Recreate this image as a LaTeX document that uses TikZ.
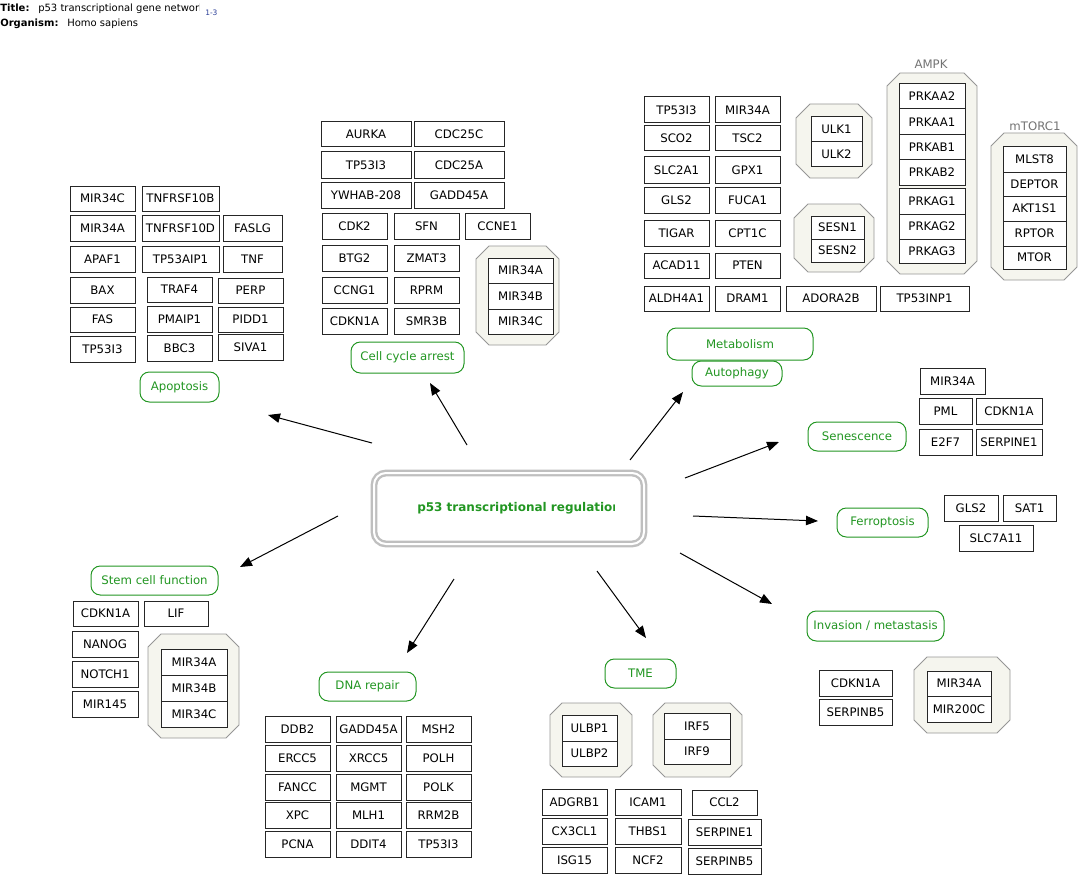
\documentclass[tikz,border=0pt]{standalone}
\usepackage{fontspec}
\setmainfont{DejaVu Sans}
\usetikzlibrary{arrows.meta}
\definecolor{lblgreen}{RGB}{34,150,34}
\definecolor{cplxfill}{RGB}{245,245,238}
\definecolor{cplxline}{RGB}{150,150,150}
\definecolor{refblue}{RGB}{40,60,150}
\newcommand{\gfont}{\fontsize{8.8pt}{10pt}\selectfont}
\newcommand{\tfont}{\fontsize{7.5pt}{9pt}\selectfont}
% gene box: name, x1, y1, x2, y2, text (pixel grid, y downwards)
\newcommand{\gbox}[6]{\node[gene, minimum width={(#4-#2)*0.75pt}, minimum height={(#5-#3)*0.75pt}] (#1) at ({(#2+#4)/2},{(#3+#5)/2}) {#6};}
% process label box
\newcommand{\lbox}[6]{\node[lbl, minimum width={(#4-#2)*0.75pt}, minimum height={(#5-#3)*0.75pt}] (#1) at ({(#2+#4)/2},{(#3+#5)/2}) {#6};}
% complex outline: x1, y1, x2, y2, chamfer
\newcommand{\cplx}[5]{\filldraw[cplx] (#1+#5,#2) -- (#3-#5,#2) -- (#3,#2+#5) -- (#3,#4-#5) -- (#3-#5,#4) -- (#1+#5,#4) -- (#1,#4-#5) -- (#1,#2+#5) -- cycle;}
\tikzset{
  gene/.style={draw=black!85, line width=0.75pt, fill=white, inner sep=0pt, font=\gfont},
  lbl/.style={draw=lblgreen, line width=0.75pt, rounded corners=7pt, fill=white, inner sep=0pt, text=lblgreen, font=\gfont},
  cplx/.style={draw=cplxline, fill=cplxfill, line width=0.6pt},
  cplxname/.style={text=black!55, font=\gfont, inner sep=0pt},
  flow/.style={line width=0.75pt, -{Triangle[length=9pt,width=7pt]}},
}
\begin{document}
\begin{tikzpicture}[x=0.75pt, y=-0.75pt]
\useasboundingbox (0,0) rectangle (1091,888);

% header
\node[anchor=base west, inner sep=0pt, font=\tfont\bfseries] (ttl) at (0,12) {Title:};
\node[anchor=base west, inner sep=0pt, font=\tfont\bfseries] (org) at (0,27) {Organism:};
\begin{scope}
  \clip (0,0) rectangle (199,20);
  \node[anchor=base west, inner sep=0pt, font=\tfont] (ttltext) at (38,12) {p53 transcriptional gene network};
\end{scope}
\node[anchor=base west, inner sep=0pt, font=\fontsize{5.6pt}{6pt}\selectfont, text=refblue] (refs) at (205,15.5) {1-3};
\node[anchor=base west, inner sep=0pt, font=\tfont] (orgtext) at (67,27) {Homo sapiens};

% central node
\node[draw=black!25, line width=1.8pt, double=white, double distance=1.5pt, rounded corners=9pt,
      minimum width={(644-374)*0.75pt}, minimum height={(544-473)*0.75pt}, inner sep=0pt] (core) at (509,508.5) {};
\begin{scope}
  \clip (380,480) rectangle (614,535);
  \node[anchor=base west, inner sep=0pt, text=lblgreen, font=\fontsize{9pt}{11pt}\selectfont\bfseries] (coretext) at (417,511) {p53 transcriptional regulation};
\end{scope}

% arrows to the processes
\coordinate (s1) at (372,443); \coordinate (e1) at (268,415);
\coordinate (s2) at (467,445); \coordinate (e2) at (430,383);
\coordinate (s3) at (630,460); \coordinate (e3) at (683,392);
\coordinate (s4) at (685,478); \coordinate (e4) at (779,442);
\coordinate (s5) at (693,516); \coordinate (e5) at (818,521);
\coordinate (s6) at (680,553); \coordinate (e6) at (772,604);
\coordinate (s7) at (597,571); \coordinate (e7) at (646,638);
\coordinate (s8) at (454,579); \coordinate (e8) at (407,653);
\coordinate (s9) at (338,516); \coordinate (e9) at (240,567);
\foreach \i in {1,...,9} \draw[flow] (s\i) -- (e\i);

% process labels
\lbox{lapo}{140}{372}{219}{402}{Apoptosis}
\lbox{lcc}{351}{342}{464}{373}{Cell cycle arrest}
\lbox{lmet}{667}{328}{813}{360}{Metabolism}
\lbox{laut}{692}{361}{782}{386}{Autophagy}
\lbox{lsen}{808}{422}{906}{451}{Senescence}
\lbox{lfer}{837}{508}{928}{537}{Ferroptosis}
\lbox{linv}{807}{611}{944}{641}{Invasion / metastasis}
\lbox{ltme}{605}{659}{676}{688}{TME}
\lbox{ldna}{319}{672}{416}{701}{DNA repair}
\lbox{lstem}{91}{566}{218}{595}{Stem cell function}

% apoptosis
\gbox{ap1}{70}{186}{135}{211}{MIR34C}
\gbox{ap2}{142}{186}{219}{211}{TNFRSF10B}
\gbox{ap3}{70}{215}{135}{241}{MIR34A}
\gbox{ap4}{142}{215}{219}{241}{TNFRSF10D}
\gbox{ap5}{223}{215}{282}{241}{FASLG}
\gbox{ap6}{70}{246}{135}{272}{APAF1}
\gbox{ap7}{142}{246}{219}{272}{TP53AIP1}
\gbox{ap8}{223}{246}{282}{272}{TNF}
\gbox{ap9}{70}{277}{135}{303}{BAX}
\gbox{ap10}{147}{277}{212}{302}{TRAF4}
\gbox{ap11}{218}{278}{283}{303}{PERP}
\gbox{ap12}{70}{307}{135}{332}{FAS}
\gbox{ap13}{147}{306}{212}{332}{PMAIP1}
\gbox{ap14}{218}{307}{283}{332}{PIDD1}
\gbox{ap15}{70}{336}{135}{362}{TP53I3}
\gbox{ap16}{147}{335}{212}{361}{BBC3}
\gbox{ap17}{218}{334}{283}{360}{SIVA1}

% cell cycle arrest
\gbox{cc1}{321}{122}{411}{147}{AURKA}
\gbox{cc2}{414}{122}{504}{147}{CDC25C}
\gbox{cc3}{321}{152}{411}{178}{TP53I3}
\gbox{cc4}{414}{152}{504}{178}{CDC25A}
\gbox{cc5}{321}{182}{411}{208}{YWHAB-208}
\gbox{cc6}{414}{182}{504}{208}{GADD45A}
\gbox{cc7}{322}{213}{387}{239}{CDK2}
\gbox{cc8}{394}{213}{459}{239}{SFN}
\gbox{cc9}{465}{213}{530}{239}{CCNE1}
\gbox{cc10}{322}{245}{387}{271}{BTG2}
\gbox{cc11}{394}{245}{459}{271}{ZMAT3}
\gbox{cc12}{322}{277}{387}{303}{CCNG1}
\gbox{cc13}{394}{277}{459}{303}{RPRM}
\gbox{cc14}{322}{308}{387}{334}{CDKN1A}
\gbox{cc15}{394}{308}{459}{334}{SMR3B}
\cplx{476}{246}{559}{345}{13}
\gbox{cc16}{488}{258}{553}{283}{MIR34A}
\gbox{cc17}{488}{283}{553}{309}{MIR34B}
\gbox{cc18}{488}{309}{553}{334}{MIR34C}

% metabolism and autophagy
\gbox{me1}{644}{97}{709}{123}{TP53I3}
\gbox{me2}{715}{97}{780}{123}{MIR34A}
\gbox{me3}{644}{126}{709}{151}{SCO2}
\gbox{me4}{715}{126}{780}{151}{TSC2}
\gbox{me5}{644}{157}{709}{183}{SLC2A1}
\gbox{me6}{715}{157}{780}{183}{GPX1}
\gbox{me7}{644}{187}{709}{213}{GLS2}
\gbox{me8}{715}{187}{780}{213}{FUCA1}
\gbox{me9}{644}{220}{709}{246}{TIGAR}
\gbox{me10}{715}{220}{780}{246}{CPT1C}
\gbox{me11}{644}{253}{709}{278}{ACAD11}
\gbox{me12}{715}{253}{780}{278}{PTEN}
\gbox{me13}{644}{286}{709}{311}{ALDH4A1}
\gbox{me14}{715}{286}{780}{311}{DRAM1}
\gbox{me15}{786}{286}{876}{311}{ADORA2B}
\gbox{me16}{880}{286}{969}{311}{TP53INP1}
\cplx{796}{104}{872}{178}{14}
\gbox{ulk1}{811}{117}{862}{142}{ULK1}
\gbox{ulk2}{811}{142}{862}{166}{ULK2}
\cplx{794}{204}{874}{272}{14}
\gbox{sesn1}{811}{216}{864}{239}{SESN1}
\gbox{sesn2}{811}{239}{864}{262}{SESN2}
\cplx{887}{73}{977}{274}{13}
\node[cplxname] (ampk) at (931,64) {AMPK};
\gbox{am1}{899}{84}{965}{109}{PRKAA2}
\gbox{am2}{899}{109}{965}{135}{PRKAA1}
\gbox{am3}{899}{135}{965}{160}{PRKAB1}
\gbox{am4}{899}{160}{965}{185}{PRKAB2}
\gbox{am5}{899}{188}{965}{214}{PRKAG1}
\gbox{am6}{899}{214}{965}{239}{PRKAG2}
\gbox{am7}{899}{239}{965}{263}{PRKAG3}
\cplx{991}{133}{1077}{280}{13}
\node[cplxname] (mtorc) at (1035,126) {mTORC1};
\gbox{mt1}{1003}{147}{1066}{172}{MLST8}
\gbox{mt2}{1003}{172}{1066}{196}{DEPTOR}
\gbox{mt3}{1003}{196}{1066}{221}{AKT1S1}
\gbox{mt4}{1003}{221}{1066}{246}{RPTOR}
\gbox{mt5}{1003}{246}{1066}{269}{MTOR}

% senescence
\gbox{se1}{920}{368}{985}{394}{MIR34A}
\gbox{se2}{919}{398}{972}{424}{PML}
\gbox{se3}{976}{398}{1042}{424}{CDKN1A}
\gbox{se4}{919}{429}{972}{455}{E2F7}
\gbox{se5}{976}{429}{1042}{455}{SERPINE1}

% ferroptosis
\gbox{fe1}{944}{495}{998}{521}{GLS2}
\gbox{fe2}{1003}{495}{1056}{521}{SAT1}
\gbox{fe3}{959}{525}{1033}{551}{SLC7A11}

% invasion / metastasis
\gbox{in1}{819}{670}{892}{696}{CDKN1A}
\gbox{in2}{819}{699}{892}{725}{SERPINB5}
\cplx{914}{657}{1010}{733}{13}
\gbox{in3}{927}{671}{991}{696}{MIR34A}
\gbox{in4}{927}{696}{991}{722}{MIR200C}

% tumour microenvironment
\cplx{550}{703}{632}{777}{12}
\gbox{tm1}{562}{715}{617}{741}{ULBP1}
\gbox{tm2}{562}{741}{617}{766}{ULBP2}
\cplx{653}{703}{742}{777}{12}
\gbox{tm3}{664}{713}{730}{739}{IRF5}
\gbox{tm4}{664}{739}{730}{764}{IRF9}
\gbox{tm5}{542}{789}{607}{815}{ADGRB1}
\gbox{tm6}{615}{789}{681}{815}{ICAM1}
\gbox{tm7}{692}{790}{757}{815}{CCL2}
\gbox{tm8}{542}{818}{607}{844}{CX3CL1}
\gbox{tm9}{615}{818}{681}{844}{THBS1}
\gbox{tm10}{688}{819}{761}{845}{SERPINE1}
\gbox{tm11}{542}{847}{607}{873}{ISG15}
\gbox{tm12}{615}{847}{681}{873}{NCF2}
\gbox{tm13}{688}{848}{761}{874}{SERPINB5}

% DNA repair
\gbox{dn1}{265}{716}{330}{742}{DDB2}
\gbox{dn2}{336}{716}{401}{742}{GADD45A}
\gbox{dn3}{406}{716}{471}{742}{MSH2}
\gbox{dn4}{265}{745}{330}{771}{ERCC5}
\gbox{dn5}{336}{745}{401}{771}{XRCC5}
\gbox{dn6}{406}{745}{471}{771}{POLH}
\gbox{dn7}{265}{774}{330}{800}{FANCC}
\gbox{dn8}{336}{774}{401}{800}{MGMT}
\gbox{dn9}{406}{774}{471}{800}{POLK}
\gbox{dn10}{265}{802}{330}{828}{XPC}
\gbox{dn11}{336}{802}{401}{828}{MLH1}
\gbox{dn12}{406}{802}{471}{828}{RRM2B}
\gbox{dn13}{265}{831}{330}{857}{PCNA}
\gbox{dn14}{336}{831}{401}{857}{DDIT4}
\gbox{dn15}{406}{831}{471}{857}{TP53I3}

% stem cell function
\gbox{st1}{73}{601}{138}{626}{CDKN1A}
\gbox{st2}{144}{601}{208}{626}{LIF}
\gbox{st3}{72}{631}{138}{657}{NANOG}
\gbox{st4}{72}{661}{138}{687}{NOTCH1}
\gbox{st5}{72}{691}{138}{717}{MIR145}
\cplx{148}{634}{239}{738}{13}
\gbox{st6}{161}{649}{227}{675}{MIR34A}
\gbox{st7}{161}{675}{227}{701}{MIR34B}
\gbox{st8}{161}{701}{227}{727}{MIR34C}
\end{tikzpicture}
\end{document}
